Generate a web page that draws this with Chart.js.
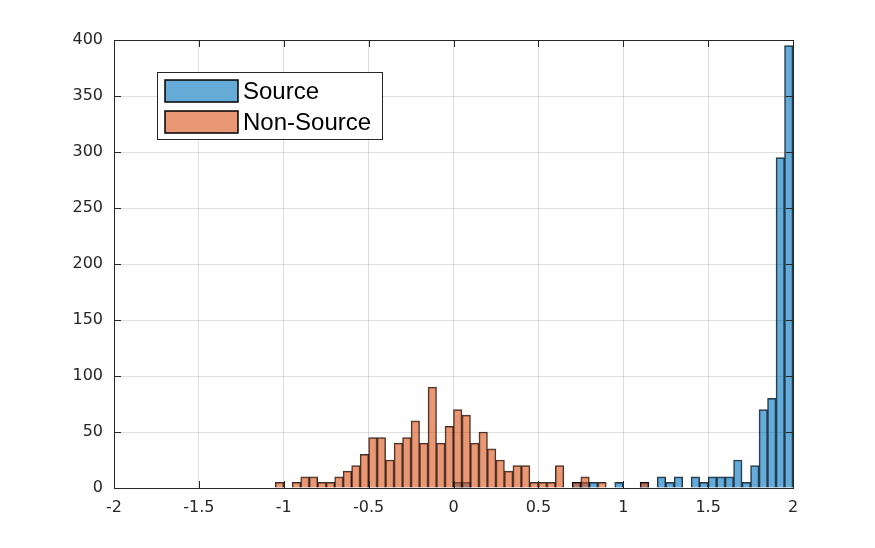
<!DOCTYPE html>
<html>
<head>
<meta charset="utf-8">
<script src="https://cdn.jsdelivr.net/npm/chart.js@4.4.1/dist/chart.umd.min.js"></script>
<style>
  html, body { margin: 0; padding: 0; background: #fff; }
  canvas { display: block; }
</style>
</head>
<body>
<canvas id="histChart" width="875" height="548"></canvas>
<script>
const sourceBins = [0.025, 0.075, 0.725, 0.775, 0.825, 0.975, 1.125, 1.225, 1.275, 1.325, 1.425,
  1.475, 1.525, 1.575, 1.625, 1.675, 1.725, 1.775, 1.825, 1.875, 1.925, 1.975];
const sourceCounts = [5, 5, 5, 5, 5, 5, 5, 10, 5, 10, 10,
  5, 10, 10, 10, 25, 5, 20, 70, 80, 295, 395];

const nonSourceBins = [-1.025, -0.925, -0.875, -0.825, -0.775, -0.725, -0.675, -0.625, -0.575, -0.525,
  -0.475, -0.425, -0.375, -0.325, -0.275, -0.225, -0.175, -0.125, -0.075, -0.025,
  0.025, 0.075, 0.125, 0.175, 0.225, 0.275, 0.325, 0.375, 0.425, 0.475,
  0.525, 0.575, 0.625, 0.725, 0.775, 0.875, 1.125];
const nonSourceCounts = [5, 5, 10, 10, 5, 5, 10, 15, 20, 30,
  45, 45, 25, 40, 45, 60, 40, 90, 40, 55,
  70, 65, 40, 50, 35, 25, 15, 20, 20, 5,
  5, 5, 20, 5, 10, 5, 5];

const xTicks = [-2, -1.5, -1, -0.5, 0, 0.5, 1, 1.5, 2];
const yTicks = [0, 50, 100, 150, 200, 250, 300, 350, 400];
const seriesLabels = ['Source', 'Non-Source'];

const BLUE = 'rgba(0,114,189,0.6)';
const ORANGE = 'rgba(217,83,25,0.6)';
const AXIS = '#262626';
const FONT = '"Liberation Sans", Arial, Helvetica, sans-serif';
const TICK_FONT = '"DejaVu Sans", sans-serif';

function toPoints(bins, counts) {
  return bins.map((b, i) => ({ x: b, y: counts[i] }));
}

// Caja, ticks hacia dentro en los 4 lados y leyenda estilo MATLAB
const matlabBox = {
  id: 'matlabBox',
  afterDatasetsDraw(chart) {
    const { ctx, chartArea: a, scales } = chart;
    const len = 7;
    ctx.save();
    ctx.strokeStyle = AXIS;
    ctx.lineWidth = 1;
    ctx.beginPath();
    xTicks.forEach(v => {
      const px = Math.round(scales.x.getPixelForValue(v)) + 0.5;
      ctx.moveTo(px, a.bottom); ctx.lineTo(px, a.bottom - len);
      ctx.moveTo(px, a.top); ctx.lineTo(px, a.top + len);
    });
    yTicks.forEach(v => {
      const py = Math.round(scales.y.getPixelForValue(v)) + 0.5;
      ctx.moveTo(a.left, py); ctx.lineTo(a.left + len, py);
      ctx.moveTo(a.right, py); ctx.lineTo(a.right - len, py);
    });
    ctx.stroke();
    ctx.strokeRect(Math.round(a.left) + 0.5, Math.round(a.top) + 0.5,
      Math.round(a.right - a.left), Math.round(a.bottom - a.top));

    // leyenda
    const lx = a.left + 43, ly = a.top + 32, lw = 225, lh = 67;
    ctx.fillStyle = '#fff';
    ctx.fillRect(lx, ly, lw, lh);
    ctx.strokeRect(lx + 0.5, ly + 0.5, lw, lh);
    const colors = [BLUE, ORANGE];
    ctx.font = '24px ' + FONT;
    ctx.textBaseline = 'middle';
    seriesLabels.forEach((lbl, i) => {
      const sy = ly + 8 + i * 31;
      ctx.fillStyle = colors[i];
      ctx.fillRect(lx + 8, sy, 73, 22);
      ctx.lineWidth = 1.5;
      ctx.strokeStyle = '#000';
      ctx.strokeRect(lx + 8, sy, 73, 22);
      ctx.fillStyle = '#000';
      ctx.fillText(lbl, lx + 86, sy + 12);
    });
    ctx.restore();
  }
};

new Chart(document.getElementById('histChart').getContext('2d'), {
  type: 'bar',
  data: {
    datasets: [
      {
        label: seriesLabels[0],
        data: toPoints(sourceBins, sourceCounts),
        backgroundColor: BLUE,
        borderColor: 'rgba(0,0,0,0.8)',
        borderWidth: 1,
        order: 1
      },
      {
        label: seriesLabels[1],
        data: toPoints(nonSourceBins, nonSourceCounts),
        backgroundColor: ORANGE,
        borderColor: 'rgba(0,0,0,0.8)',
        borderWidth: 1,
        order: 0
      }
    ]
  },
  options: {
    responsive: false,
    animation: false,
    devicePixelRatio: 1,
    layout: { padding: { left: 0, right: 82, top: 40, bottom: 0 } },
    datasets: {
      bar: { barPercentage: 1, categoryPercentage: 1, grouped: false }
    },
    plugins: {
      legend: { display: false },
      tooltip: { enabled: false }
    },
    scales: {
      x: {
        type: 'linear',
        min: -2,
        max: 2,
        offset: false,
        afterFit: s => { s.height = 60; },
        afterBuildTicks: s => { s.ticks = xTicks.map(v => ({ value: v })); },
        grid: { offset: false, color: 'rgba(38,38,38,0.15)', drawTicks: false },
        border: { display: false },
        ticks: {
          padding: 10,
          color: AXIS,
          font: { family: TICK_FONT, size: 16 },
          maxRotation: 0,
          callback: v => String(v)
        }
      },
      y: {
        min: 0,
        max: 400,
        afterFit: s => { s.width = 114; },
        afterBuildTicks: s => { s.ticks = yTicks.map(v => ({ value: v })); },
        grid: { color: 'rgba(38,38,38,0.15)', drawTicks: false },
        border: { display: false },
        ticks: {
          padding: 11,
          color: AXIS,
          font: { family: TICK_FONT, size: 16 },
          callback: v => String(v)
        }
      }
    }
  },
  plugins: [matlabBox]
});
</script>
</body>
</html>
